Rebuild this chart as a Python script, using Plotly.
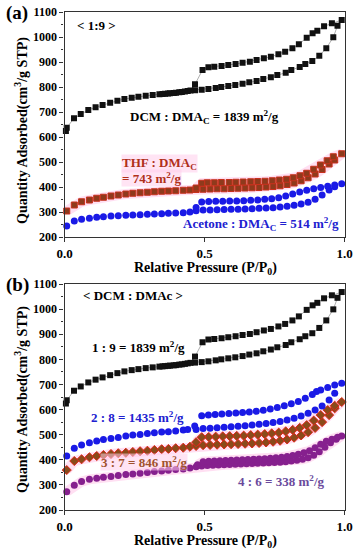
import plotly.graph_objects as go

# ---------------- data ----------------
# Panel (a) / (b): DCM : DMAc = 1:9 (black squares)
dcm_ads_x = [0.005, 0.008, 0.034, 0.058, 0.085, 0.111, 0.136, 0.163, 0.189, 0.214, 0.24, 0.264, 0.29, 0.315,
             0.339, 0.359, 0.377, 0.398, 0.419, 0.44, 0.466, 0.49, 0.514, 0.54, 0.56, 0.585, 0.61, 0.636, 0.66,
             0.686, 0.71, 0.737, 0.76, 0.79, 0.81, 0.84, 0.86, 0.885, 0.91, 0.935, 0.96, 0.975, 0.99]
dcm_ads_y = [624, 637, 675, 692, 708, 719, 728, 737, 745, 752, 757, 761, 765, 768, 771, 773, 775, 777, 780, 784,
             787, 789, 792, 796, 800, 804, 808, 813, 819, 824, 832, 839, 848, 857, 868, 880, 892, 904, 925, 955,
             999, 1045, 1068]
dcm_des_x = [0.955, 0.927, 0.903, 0.886, 0.865, 0.837, 0.814, 0.788, 0.764, 0.737, 0.712, 0.686, 0.662, 0.636,
             0.611, 0.585, 0.561, 0.535, 0.514, 0.493, 0.466, 0.45, 0.43, 0.41, 0.39, 0.37, 0.35]
dcm_des_y = [1055, 1043, 1025, 1015, 997, 971, 955, 941, 931, 921, 915, 908, 901, 897, 892, 888, 884, 881, 879,
             868, 811, 786, 782, 779, 776, 774, 772]

# Panel (a): THF : DMAc (brown squares)
thf_ads_x = [0.008, 0.035, 0.061, 0.089, 0.115, 0.139, 0.166, 0.192, 0.219, 0.244, 0.27, 0.296, 0.321, 0.347,
             0.371, 0.397, 0.424, 0.448, 0.47, 0.495, 0.52, 0.545, 0.57, 0.595, 0.62, 0.645, 0.67, 0.695, 0.72,
             0.745, 0.77, 0.795, 0.82, 0.845, 0.87, 0.895, 0.92, 0.945, 0.965, 0.99]
thf_ads_y = [304, 328, 341, 348, 355, 359, 364, 368, 372, 375, 377, 379, 381, 383, 384, 385, 387, 388, 390, 391,
             392, 393, 393, 394, 395, 396, 397, 398, 400, 402, 405, 410, 416, 425, 437, 452, 470, 492, 508, 533]
thf_des_x = [0.96, 0.938, 0.914, 0.89, 0.865, 0.841, 0.817, 0.793, 0.767, 0.742, 0.716, 0.69, 0.665, 0.638,
             0.612, 0.588, 0.56, 0.535, 0.51, 0.49, 0.47]
thf_des_y = [521, 505, 488, 471, 455, 445, 437, 431, 428, 425, 423, 422, 421, 420, 419, 418, 418, 417, 417, 415,
             396]

# Panel (a): Acetone : DMAc (blue circles)
ace_ads_x = [0.008, 0.035, 0.061, 0.089, 0.115, 0.139, 0.166, 0.192, 0.219, 0.244, 0.27, 0.296, 0.321, 0.347,
             0.371, 0.397, 0.424, 0.448, 0.47, 0.495, 0.52, 0.545, 0.57, 0.595, 0.62, 0.645, 0.67, 0.695, 0.72,
             0.745, 0.77, 0.795, 0.82, 0.845, 0.87, 0.895, 0.92, 0.945, 0.965, 0.99]
ace_ads_y = [244, 264, 271, 275, 279, 281, 284, 285, 287, 288, 289, 291, 292, 293, 295, 296, 297, 300, 305, 308,
             308, 309, 310, 311, 311, 312, 313, 315, 316, 317, 320, 323, 327, 332, 339, 351, 368, 388, 401, 413]
ace_des_x = [0.965, 0.94, 0.915, 0.89, 0.865, 0.84, 0.815, 0.79, 0.765, 0.74, 0.715, 0.69, 0.665, 0.64, 0.615,
             0.59, 0.565, 0.54, 0.515, 0.49, 0.47]
ace_des_y = [408, 403, 398, 393, 387, 380, 372, 364, 357, 353, 351, 348, 347, 345, 344, 344, 343, 343, 342, 340,
             318]

# Panel (b): 2:8 (blue circles)
r28_ads_x = [0.008, 0.035, 0.061, 0.089, 0.115, 0.139, 0.166, 0.192, 0.219, 0.244, 0.27, 0.296, 0.321, 0.347,
             0.371, 0.397, 0.424, 0.44, 0.47, 0.495, 0.52, 0.545, 0.57, 0.595, 0.62, 0.645, 0.67, 0.695, 0.72,
             0.745, 0.77, 0.795, 0.82, 0.845, 0.87, 0.895, 0.92, 0.945, 0.965, 0.99]
r28_ads_y = [415, 446, 459, 468, 475, 481, 485, 489, 495, 499, 501, 505, 508, 511, 512, 515, 519, 521, 521, 525,
             526, 528, 530, 532, 534, 536, 538, 541, 544, 548, 552, 558, 565, 574, 585, 598, 614, 638, 665, 705]
r28_des_x = [0.965, 0.94, 0.915, 0.9, 0.885, 0.86, 0.835, 0.81, 0.785, 0.76, 0.735, 0.71, 0.685, 0.66, 0.636,
             0.612, 0.587, 0.562, 0.538, 0.514, 0.49, 0.465]
r28_des_y = [698, 688, 678, 672, 660, 645, 632, 623, 615, 608, 602, 597, 593, 590, 588, 586, 584, 582, 580, 578,
             575, 535]

# Panel (b): 3:7 (red diamonds)
r37_ads_x = [0.008, 0.035, 0.061, 0.089, 0.115, 0.139, 0.166, 0.192, 0.219, 0.244, 0.27, 0.296, 0.321, 0.347,
             0.371, 0.397, 0.424, 0.448, 0.47, 0.495, 0.52, 0.545, 0.57, 0.595, 0.62, 0.645, 0.67, 0.695, 0.72,
             0.745, 0.77, 0.795, 0.82, 0.845, 0.87, 0.895, 0.92, 0.945, 0.965, 0.99]
r37_ads_y = [359, 395, 402, 410, 415, 419, 423, 426, 428, 431, 434, 436, 439, 442, 443, 446, 448, 452, 455, 458,
             459, 460, 461, 462, 463, 464, 465, 467, 469, 472, 476, 481, 488, 497, 510, 527, 550, 578, 605, 630]
r37_des_x = [0.965, 0.94, 0.915, 0.89, 0.865, 0.84, 0.815, 0.79, 0.765, 0.74, 0.715, 0.69, 0.665, 0.64, 0.615,
             0.59, 0.565, 0.54, 0.515, 0.49, 0.47]
r37_des_y = [615, 598, 578, 556, 538, 527, 519, 513, 508, 505, 502, 500, 498, 496, 495, 494, 493, 492, 491, 490,
             470]

# Panel (b): 4:6 (purple circles)
r46_ads_x = [0.008, 0.035, 0.061, 0.089, 0.115, 0.139, 0.166, 0.192, 0.219, 0.244, 0.27, 0.296, 0.321, 0.347,
             0.371, 0.397, 0.424, 0.448, 0.47, 0.49, 0.51, 0.53, 0.55, 0.57, 0.59, 0.61, 0.63, 0.65, 0.67, 0.69,
             0.71, 0.73, 0.75, 0.77, 0.79, 0.81, 0.83, 0.85, 0.87, 0.89, 0.91, 0.93, 0.95, 0.97, 0.99]
r46_ads_y = [273, 299, 313, 322, 326, 330, 333, 337, 341, 343, 346, 349, 353, 355, 358, 361, 363, 367, 372, 375,
             377, 378, 379, 380, 381, 382, 383, 384, 385, 386, 387, 388, 389, 390, 392, 395, 398, 402, 408, 418,
             432, 450, 468, 482, 495]
r46_des_x = [0.975, 0.955, 0.935, 0.915, 0.895, 0.875, 0.855, 0.835, 0.815, 0.795, 0.775, 0.755, 0.735, 0.715,
             0.695, 0.675, 0.655, 0.635, 0.615, 0.595, 0.575, 0.555, 0.535, 0.515, 0.495, 0.475]
r46_des_y = [490, 482, 474, 462, 448, 436, 428, 422, 417, 413, 410, 408, 406, 404, 403, 402, 401, 400, 399, 398,
             397, 396, 395, 394, 392, 380]

x_ticks = [0.0, 0.5, 1.0]
y_range = [200, 1100]

# ---------------- figure ----------------
FONT = "Liberation Serif"
W, H = 356, 550
XL, XR = 64.5, 344.5
A_TOP, A_BOT = 12, 237
B_TOP, B_BOT = 284, 510


def pp(p):
    return 1 - p / H


fig = go.Figure()


def add_series(xs, ys, xa, ya, symbol, color, size, edge=None, line=None, halo=None):
    if halo:
        fig.add_trace(go.Scatter(x=xs, y=ys, mode="lines", xaxis=xa, yaxis=ya,
                                 line=dict(color=halo, width=10), hoverinfo="skip",
                                 showlegend=False, cliponaxis=False))
    fig.add_trace(go.Scatter(
        x=xs, y=ys, mode="lines+markers" if line else "markers", xaxis=xa, yaxis=ya,
        line=dict(color=line or color, width=0.8),
        marker=dict(symbol=symbol, color=color, size=size,
                    line=dict(color=edge or color, width=1 if edge else 0)),
        showlegend=False, cliponaxis=False))


HALO = "rgba(255,175,222,0.40)"

# panel (a)
add_series(thf_ads_x + thf_des_x, thf_ads_y + thf_des_y, "x", "y", "square", "#8E3A1C", 6,
           edge="#C8301C", halo=HALO)
add_series(ace_ads_x + ace_des_x, ace_ads_y + ace_des_y, "x", "y", "circle", "#1A1AE6", 7)
add_series(dcm_ads_x + dcm_des_x, dcm_ads_y + dcm_des_y, "x", "y", "square", "#111111", 6, line="#9a9a9a")

# panel (b)
add_series(r46_ads_x + r46_des_x, r46_ads_y + r46_des_y, "x2", "y2", "circle", "#86208E", 7, halo=HALO)
add_series(r37_ads_x + r37_des_x, r37_ads_y + r37_des_y, "x2", "y2", "diamond", "#8A4A1A", 7,
           edge="#E0281A", halo=HALO)
add_series(r28_ads_x + r28_des_x, r28_ads_y + r28_des_y, "x2", "y2", "circle", "#1A1AE6", 7)
add_series(dcm_ads_x + dcm_des_x, dcm_ads_y + dcm_des_y, "x2", "y2", "square", "#111111", 6, line="#9a9a9a")

AX = "#333333"
xcommon = dict(range=[0, 1], tickmode="array", tickvals=x_ticks,
               ticktext=["%.1f" % v for v in x_ticks],
               ticks="outside", ticklen=4, tickwidth=1.2, tickcolor=AX,
               showline=True, linecolor=AX, linewidth=1.3, mirror=True,
               showgrid=False, zeroline=False, automargin=False,
               tickfont=dict(family=FONT, size=13, color="black", weight="bold"))
ycommon = dict(range=y_range, dtick=100, tick0=0,
               ticks="outside", ticklen=4, tickwidth=1.2, tickcolor=AX,
               minor=dict(ticks="outside", ticklen=2, dtick=50, tick0=0, tickcolor=AX, tickwidth=1),
               showline=True, linecolor=AX, linewidth=1.3, mirror=True,
               showgrid=False, zeroline=False, automargin=False,
               tickfont=dict(family=FONT, size=12, color="black", weight="bold"))

xdom = [XL / W, XR / W]
fig.update_layout(
    width=W, height=H, autosize=False,
    margin=dict(l=0, r=0, t=0, b=0),
    paper_bgcolor="white", plot_bgcolor="white",
    xaxis=dict(domain=xdom, anchor="y", **xcommon),
    yaxis=dict(domain=[pp(A_BOT), pp(A_TOP)], anchor="x", **ycommon),
    xaxis2=dict(domain=xdom, anchor="y2", **xcommon),
    yaxis2=dict(domain=[pp(B_BOT), pp(B_TOP)], anchor="x2", **ycommon),
    showlegend=False,
)


def ann(text, x, y, xref, yref, size, color="black", xanchor="center", angle=0, bg=None):
    fig.add_annotation(text=text, x=x, y=y, xref=xref, yref=yref, showarrow=False,
                       xanchor=xanchor, yanchor="middle", textangle=angle,
                       bgcolor=bg, borderpad=0,
                       font=dict(family=FONT, size=size, color=color, weight="bold"))


PINKBG = "rgba(255,205,235,0.55)"
# panel (a) texts
ann("(a)", 17 / W, pp(13), "paper", "paper", 19)
ann("&lt; 1:9 &gt;", 0.116, 1048, "x", "y", 13)
ann("DCM : DMA<sub>C</sub> = 1839 m<sup>2</sup>/g", 0.5, 680, "x", "y", 13)
ann("THF : DMA<sub>C</sub>", 0.20, 494, "x", "y", 13, color="#B0301A", xanchor="left", bg=PINKBG)
ann("= 743 m<sup>2</sup>/g", 0.20, 436, "x", "y", 13, color="#B0301A", xanchor="left", bg=PINKBG)
ann("Acetone : DMA<sub>C</sub> = 514 m<sup>2</sup>/g", 0.70, 252, "x", "y", 13, color="#2020D0")
ann("Quantity Adsorbed(cm<sup>3</sup>/g STP)", 21 / W, pp(131), "paper", "paper", 14, angle=-90)
ann("Relative Pressure (P/P<sub>0</sub>)", 205 / W, pp(269), "paper", "paper", 14)

# panel (b) texts
ann("(b)", 17 / W, pp(285), "paper", "paper", 19)
ann("&lt; DCM : DMAc &gt;", 0.245, 1056, "x2", "y2", 13)
ann("1 : 9 = 1839 m<sup>2</sup>/g", 0.264, 849, "x2", "y2", 13)
ann("2 : 8 = 1435 m<sup>2</sup>/g", 0.26, 570, "x2", "y2", 13, color="#2020D0")
ann("3 : 7 = 846 m<sup>2</sup>/g", 0.284, 391, "x2", "y2", 13, color="#A0522D", bg=PINKBG)
ann("4 : 6 = 338 m<sup>2</sup>/g", 0.773, 315, "x2", "y2", 13, color="#6A4A9C")
ann("Quantity Adsorbed(cm<sup>3</sup>/g STP)", 21 / W, pp(400), "paper", "paper", 14, angle=-90)
ann("Relative Pressure (P/P<sub>0</sub>)", 205 / W, pp(541), "paper", "paper", 14)

fig.write_html("out.html", config={"displayModeBar": False},
               post_script="document.body.style.margin='0';document.body.style.overflow='hidden';")
